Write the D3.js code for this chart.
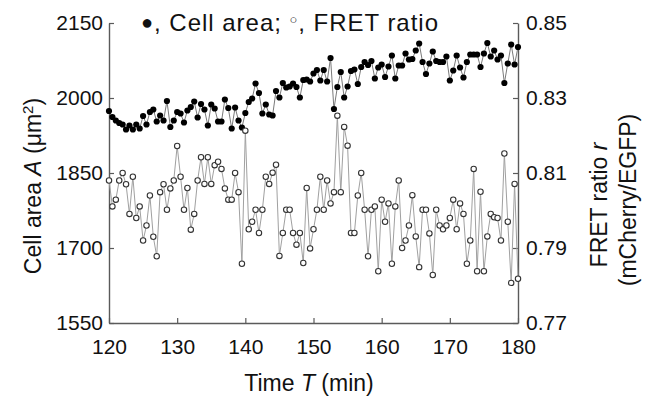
<!DOCTYPE html>
<html>
<head>
<meta charset="utf-8">
<script src="https://cdn.jsdelivr.net/npm/d3@7"></script>
<style>
  body { margin: 0; background: #fff; }
  text { font-family: "Liberation Sans", Arial, sans-serif; fill: #111; }
</style>
</head>
<body>
<svg id="chart" width="647" height="401"></svg>
<script>
// Sampling times (min)
const timeMin = [
  120,120.5,121,121.5,122,122.5,123,123.5,124,124.5,
  125,125.5,126,126.5,127,127.5,128,128.5,129,129.5,
  130,130.5,131,131.5,132,132.5,133,133.5,134,134.5,
  135,135.5,136,136.5,137,137.5,138,138.5,139,139.5,
  140,140.5,141,141.5,142,142.5,143,143.5,144,144.5,
  145,145.5,146,146.5,147,147.5,148,148.5,149,149.5,
  150,150.5,151,151.5,152,152.5,153,153.5,154,154.5,
  155,155.5,156,156.5,157,157.5,158,158.5,159,159.5,
  160,160.5,161,161.5,162,162.5,163,163.5,164,164.5,
  165,165.5,166,166.5,167,167.5,168,168.5,169,169.5,
  170,170.5,171,171.5,172,172.5,173,173.5,174,174.5,
  175,175.5,176,176.5,177,177.5,178,178.5,179,179.5,
  180
];

// Cell area A (µm²)
const cellArea = [
  1974,1962,1955,1950,1947,1937,1945,1937,1947,1939,
  1964,1947,1972,1977,1953,1965,1955,1994,1942,1955,
  1972,1969,1951,1975,1982,1993,1961,1988,1977,1945,
  1987,1979,1953,1953,1997,1980,1939,1981,1955,1941,
  1970,1992,1999,2029,2010,1969,1987,1967,1965,2014,
  2001,2030,2021,2023,2029,2022,2001,2036,2037,2033,
  2049,2056,2035,2056,2033,2080,1978,2022,2052,2001,
  2023,2054,2057,2028,2062,2072,2066,2074,2039,2061,
  2067,2042,2063,2085,2039,2065,2065,2089,2077,2078,
  2095,2109,2072,2048,2069,2093,2074,2072,2072,2083,
  2035,2055,2085,2061,2041,2072,2087,2087,2087,2062,
  2089,2110,2083,2095,2077,2085,2030,2069,2107,2067,
  2102
];

// FRET ratio r (mCherry/EGFP)
const fretRatio = [
  0.8080,0.8011,0.8029,0.8080,0.8100,0.8070,0.7991,0.8090,0.7980,0.8011,
  0.7920,0.7960,0.8040,0.7930,0.7878,0.8049,0.8070,0.8002,0.8059,0.8080,
  0.8172,0.8090,0.8002,0.8060,0.7949,0.7991,0.8080,0.8142,0.8071,0.8142,
  0.8071,0.8121,0.8130,0.8111,0.8059,0.8029,0.8029,0.8100,0.8049,0.7858,
  0.8213,0.7950,0.7970,0.8002,0.7940,0.8002,0.8090,0.8071,0.8101,0.8122,
  0.7879,0.7940,0.8002,0.8002,0.7940,0.7909,0.7940,0.7860,0.8060,0.7899,
  0.7950,0.8002,0.8090,0.8002,0.8080,0.8019,0.8049,0.8253,0.8049,0.8223,
  0.8173,0.7940,0.7940,0.8040,0.8100,0.8002,0.7878,0.8002,0.8011,0.7838,
  0.8029,0.7970,0.8019,0.7858,0.8011,0.8080,0.7900,0.7920,0.7960,0.8041,
  0.7931,0.7849,0.8002,0.8002,0.7939,0.7828,0.8002,0.7960,0.7950,0.7960,
  0.7980,0.8029,0.7950,0.8019,0.7991,0.7858,0.7920,0.8111,0.7838,0.8050,
  0.7838,0.7931,0.7991,0.7982,0.7980,0.7920,0.8152,0.7970,0.7807,0.8071,
  0.7818
];

const timeTicks = [120, 130, 140, 150, 160, 170, 180];
const areaTicks = [1550, 1700, 1850, 2000, 2150];
const fretTicks = [0.77, 0.79, 0.81, 0.83, 0.85];

const svg = d3.select("#chart");
const plot = { left: 109, right: 518, top: 23, bottom: 323 };

const x = d3.scaleLinear().domain([120, 180]).range([plot.left, plot.right]);
const yA = d3.scaleLinear().domain([1550, 2150]).range([plot.bottom, plot.top]);
const yR = d3.scaleLinear().domain([0.77, 0.85]).range([plot.bottom, plot.top]);

const axisColor = "#5a5a5a";

function styleAxis(g) {
  g.selectAll("path.domain").attr("stroke", axisColor).attr("stroke-width", 1.4);
  g.selectAll(".tick line").attr("stroke", axisColor).attr("stroke-width", 1.2);
  g.selectAll(".tick text")
    .style("font-family", '"Liberation Sans", Arial, sans-serif')
    .style("font-size", "21px")
    .attr("fill", "#111");
}

// Axes (ticks point inward)
svg.append("g")
  .attr("transform", `translate(0,${plot.bottom})`)
  .call(d3.axisBottom(x).tickValues(timeTicks).tickFormat(d3.format("d"))
    .tickSizeInner(-5).tickSizeOuter(0).tickPadding(16))
  .call(styleAxis);

svg.append("g")
  .attr("transform", `translate(${plot.left},0)`)
  .call(d3.axisLeft(yA).tickValues(areaTicks).tickFormat(d3.format("d"))
    .tickSizeInner(-5).tickSizeOuter(0).tickPadding(6))
  .call(styleAxis);

svg.append("g")
  .attr("transform", `translate(${plot.right},0)`)
  .call(d3.axisRight(yR).tickValues(fretTicks).tickFormat(d3.format(".2f"))
    .tickSizeInner(-5).tickSizeOuter(0).tickPadding(8))
  .call(styleAxis);

// Series
const areaPts = timeMin.map((t, i) => [t, cellArea[i]]);
const fretPts = timeMin.map((t, i) => [t, fretRatio[i]]);

const lineA = d3.line().x(d => x(d[0])).y(d => yA(d[1]));
const lineR = d3.line().x(d => x(d[0])).y(d => yR(d[1]));

svg.append("path").datum(areaPts)
  .attr("d", lineA).attr("fill", "none")
  .attr("stroke", "#7a7a7a").attr("stroke-width", 1);

svg.append("g").selectAll("circle").data(areaPts).join("circle")
  .attr("cx", d => x(d[0])).attr("cy", d => yA(d[1]))
  .attr("r", 3.1).attr("fill", "#000");

svg.append("path").datum(fretPts)
  .attr("d", lineR).attr("fill", "none")
  .attr("stroke", "#a0a0a0").attr("stroke-width", 1);

svg.append("g").selectAll("circle").data(fretPts).join("circle")
  .attr("cx", d => x(d[0])).attr("cy", d => yR(d[1]))
  .attr("r", 2.7).attr("fill", "#fff")
  .attr("stroke", "#333").attr("stroke-width", 1.1);

// Legend line
const legend = svg.append("text")
  .attr("x", 141)
  .attr("y", 31)
  .attr("textLength", 297)
  .attr("lengthAdjust", "spacing")
  .style("font-size", "24px");
legend.append("tspan").style("font-size", "20px").attr("dy", "-2").text("●");
legend.append("tspan").attr("dy", "2").text(", Cell area; ");
legend.append("tspan").style("font-size", "13px").attr("dy", "-7").text("○");
legend.append("tspan").attr("dy", "7").text(", FRET ratio");

// Axis titles
const leftTitle = svg.append("text")
  .attr("transform", `translate(41,186) rotate(-90)`)
  .attr("text-anchor", "middle")
  .style("font-size", "23px");
leftTitle.append("tspan").text("Cell area ");
leftTitle.append("tspan").style("font-style", "italic").text("A");
leftTitle.append("tspan").text(" (μm");
leftTitle.append("tspan").style("font-size", "15px").attr("dy", "-8").text("2");
leftTitle.append("tspan").attr("dy", "8").text(")");

const rightTitle1 = svg.append("text")
  .attr("transform", `translate(607,205) rotate(-90)`)
  .attr("text-anchor", "middle")
  .style("font-size", "23px");
rightTitle1.append("tspan").text("FRET ratio ");
rightTitle1.append("tspan").style("font-style", "italic").text("r");

svg.append("text")
  .attr("transform", `translate(636,200) rotate(-90)`)
  .attr("text-anchor", "middle")
  .style("font-size", "23px")
  .text("(mCherry/EGFP)");

const bottomTitle = svg.append("text")
  .attr("x", 309)
  .attr("y", 391)
  .attr("text-anchor", "middle")
  .style("font-size", "23px");
bottomTitle.append("tspan").text("Time ");
bottomTitle.append("tspan").style("font-style", "italic").text("T");
bottomTitle.append("tspan").text(" (min)");
</script>
</body>
</html>
